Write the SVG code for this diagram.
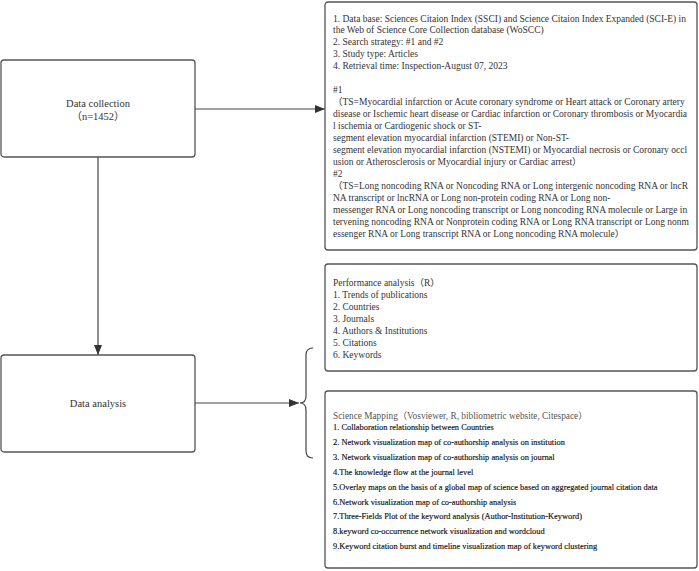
<svg xmlns="http://www.w3.org/2000/svg" width="699" height="571" viewBox="0 0 699 571">
<style>
.box{fill:#fff;stroke:#555;stroke-width:1.3}
.lbl{font-family:"Liberation Serif","Noto Sans CJK SC",serif;font-size:10.5px;fill:#333;text-anchor:middle}
.t{font-family:"Liberation Serif","Noto Sans CJK SC",serif;font-size:9.5px;fill:#333}
.st{font-family:"Liberation Serif","Noto Sans CJK SC",serif;font-size:9.3px;fill:#555}
.it{font-family:"Liberation Serif","Noto Sans CJK SC",serif;font-size:8.4px;fill:#111;stroke:#111;stroke-width:0.15}
.con{fill:none;stroke:#444;stroke-width:1.2}
</style>
<defs>
<marker id="ah" viewBox="0 0 10 8" refX="10" refY="4" markerWidth="10" markerHeight="8" markerUnits="userSpaceOnUse" orient="auto">
<path d="M0,0 L10,4 L0,8 Z" fill="#333"/>
</marker>
</defs>
<rect width="699" height="571" fill="#fff"/>
<g id="connectors">
<path class="con" d="M195,109 L325,109" marker-end="url(#ah)"/>
<path class="con" d="M98,157 L98,355" marker-end="url(#ah)"/>
<path class="con" d="M195,403 L299,403" marker-end="url(#ah)"/>
<path class="con" d="M313,348 Q306,348 306,355 L306,396 Q306,403 300,403 Q306,403 306,410 L306,451 Q306,458 313,458"/>
</g>
<g id="data-collection">
<rect class="box" x="1" y="60" width="194" height="97" rx="3"/>
<text class="lbl" x="98" y="107">Data collection</text>
<text class="lbl" x="98" y="120">（n=1452）</text>
</g>
<g id="data-analysis">
<rect class="box" x="1" y="355" width="194" height="97" rx="3"/>
<text class="lbl" x="98" y="407">Data analysis</text>
</g>
<g id="search-box">
<rect class="box" x="325" y="2" width="372" height="248" rx="3"/>
<text class="t" x="333" y="21.5">1. Data base: Sciences Citaion Index (SSCI) and Science Citaion Index Expanded (SCI-E) in</text>
<text class="t" x="333" y="33.4">the Web of Science Core Collection database (WoSCC)</text>
<text class="t" x="333" y="45.4">2. Search strategy: #1 and #2</text>
<text class="t" x="333" y="57.3">3. Study type: Articles</text>
<text class="t" x="333" y="69.3">4. Retrieval time: Inspection-August 07, 2023</text>
<text class="t" x="333" y="93.2">#1</text>
<text class="t" x="333" y="105.1">（TS=Myocardial infarction or Acute coronary syndrome or Heart attack or Coronary artery</text>
<text class="t" x="333" y="117.1">disease or Ischemic heart disease or Cardiac infarction or Coronary thrombosis or Myocardia</text>
<text class="t" x="333" y="129">l ischemia or Cardiogenic shock or ST-</text>
<text class="t" x="333" y="140.9">segment elevation myocardial infarction (STEMI) or Non-ST-</text>
<text class="t" x="333" y="152.9">segment elevation myocardial infarction (NSTEMI) or Myocardial necrosis or Coronary occl</text>
<text class="t" x="333" y="164.8">usion or Atherosclerosis or Myocardial injury or Cardiac arrest）</text>
<text class="t" x="333" y="176.8">#2</text>
<text class="t" x="333" y="188.7">（TS=Long noncoding RNA or Noncoding RNA or Long intergenic noncoding RNA or lncR</text>
<text class="t" x="333" y="200.7">NA transcript or lncRNA or Long non-protein coding RNA or Long non-</text>
<text class="t" x="333" y="212.6">messenger RNA or Long noncoding transcript or Long noncoding RNA molecule or Large in</text>
<text class="t" x="333" y="224.5">tervening noncoding RNA or Nonprotein coding RNA or Long RNA transcript or Long nonm</text>
<text class="t" x="333" y="236.5">essenger RNA or Long transcript RNA or Long noncoding RNA molecule）</text>
</g>
<g id="performance-analysis">
<rect class="box" x="325" y="264" width="372" height="107" rx="3"/>
<text class="t" x="333" y="286">Performance analysis（R）</text>
<text class="t" x="333" y="298">1. Trends of publications</text>
<text class="t" x="333" y="310">2. Countries</text>
<text class="t" x="333" y="322">3. Journals</text>
<text class="t" x="333" y="334">4. Authors &amp; Institutions</text>
<text class="t" x="333" y="346">5. Citations</text>
<text class="t" x="333" y="358">6. Keywords</text>
</g>
<g id="science-mapping">
<rect class="box" x="325" y="391" width="372" height="177" rx="3"/>
<text class="st" x="333" y="418.5">Science Mapping（Vosviewer, R, bibliometric website, Citespace）</text>
<text class="it" x="333" y="430">1. Collaboration relationship between Countries</text>
<text class="it" x="333" y="444.9">2. Network visualization map of co-authorship analysis on institution</text>
<text class="it" x="333" y="459.8">3. Network visualization map of co-authorship analysis on journal</text>
<text class="it" x="333" y="474.7">4.The knowledge flow at the journal level</text>
<text class="it" x="333" y="489.6">5.Overlay maps on the basis of a global map of science based on aggregated journal citation data</text>
<text class="it" x="333" y="504.5">6.Network visualization map of co-authorship analysis</text>
<text class="it" x="333" y="519.4">7.Three-Fields Plot of the keyword analysis (Author-Institution-Keyword)</text>
<text class="it" x="333" y="534.3">8.keyword co-occurrence network visualization and wordcloud</text>
<text class="it" x="333" y="549.2">9.Keyword citation burst and timeline visualization map of keyword clustering</text>
</g>
</svg>
